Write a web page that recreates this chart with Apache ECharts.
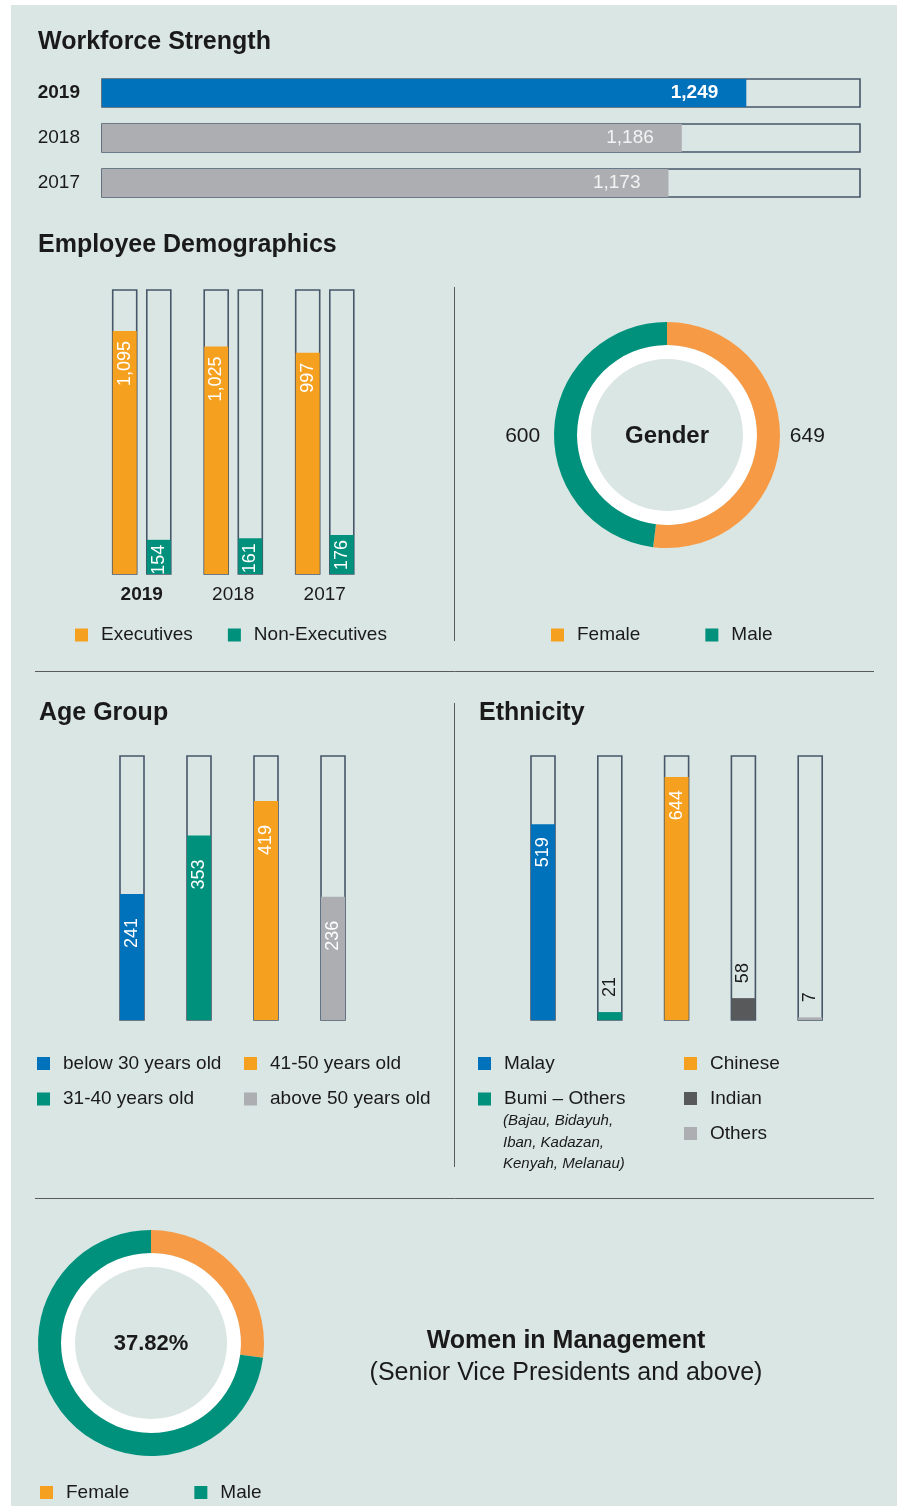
<!DOCTYPE html>
<html><head><meta charset="utf-8">
<script src="https://cdn.jsdelivr.net/npm/echarts@6/dist/echarts.min.js"></script>
<style>html,body{margin:0;padding:0;background:#fff}#c{width:901px;height:1506px}</style>
</head><body><div id="c"></div>
<script>
// ---------- data ----------
const workforceYears = ['2019', '2018', '2017'];
const workforceTotals = [1249, 1186, 1173];

const demoYears = ['2019', '2018', '2017'];
const executives = [1095, 1025, 997];
const nonExecutives = [154, 161, 176];

const genderNames = ['Female', 'Male'];
const genderValues = [649, 600];

const ageGroups = ['below 30 years old', '31-40 years old', '41-50 years old', 'above 50 years old'];
const ageValues = [241, 353, 419, 236];

const ethnicGroups = ['Malay', 'Bumi – Others', 'Chinese', 'Indian', 'Others'];
const ethnicValues = [519, 21, 644, 58, 7];
const bumiNote = ['(Bajau, Bidayuh,', 'Iban, Kadazan,', 'Kenyah, Melanau)'];

const wimNames = ['Female', 'Male'];
const wimSlices = [27.1, 72.9];      // slice shares as drawn
const wimLabel = '37.82%';

// ---------- style ----------
const FONT = '"Liberation Sans", Arial, Helvetica, sans-serif';
const BG = '#dae6e3';
const FRAME = '#46576a';
const BLUE = '#0071bb', ORANGE = '#f6a01f', TEAL = '#00917d', GRAY = '#adaeb1', DGRAY = '#58595b';
const DONUT_OR = '#f79a45';
const TXT = '#1a1a1a';
const ageColors = [BLUE, TEAL, ORANGE, GRAY];
const ethnicColors = [BLUE, TEAL, ORANGE, DGRAY, GRAY];

const bg = { color: BG, borderColor: FRAME, borderWidth: 1.6 };
const fmt = v => Number(v).toLocaleString('en-US');

function vLabel(distance, inside, color) {
  return {
    show: true, position: inside ? 'insideTop' : 'top', distance: distance, rotate: 90,
    align: inside ? 'right' : 'left', verticalAlign: 'middle',
    fontSize: 18, fontFamily: FONT, color: color,
    formatter: p => fmt(p.value)
  };
}

const series = [];

// Workforce strength
series.push({
  type: 'bar', xAxisIndex: 0, yAxisIndex: 0, barWidth: 28,
  showBackground: true, backgroundStyle: bg,
  data: workforceTotals.map((v, i) => ({
    value: v,
    itemStyle: { color: i === 0 ? BLUE : GRAY },
    label: { fontWeight: i === 0 ? 'bold' : 'normal', color: i === 0 ? '#ffffff' : '#f3f3f3' }
  })),
  label: { show: true, position: 'insideRight', distance: 28, fontSize: 19, fontFamily: FONT, formatter: p => fmt(p.value) }
});

// Demographics
series.push({
  name: 'Executives', type: 'bar', xAxisIndex: 1, yAxisIndex: 1, barWidth: 24, barGap: '42%',
  showBackground: true, backgroundStyle: bg, itemStyle: { color: ORANGE },
  data: executives, label: vLabel(10, true, '#fff')
});
series.push({
  name: 'Non-Executives', type: 'bar', xAxisIndex: 1, yAxisIndex: 1, barWidth: 24, barGap: '42%',
  showBackground: true, backgroundStyle: bg, itemStyle: { color: TEAL },
  data: nonExecutives, label: vLabel(5, true, '#fff')
});

// Age group (one series per group so the legend can name them)
ageGroups.forEach((g, k) => {
  series.push({
    name: g, type: 'bar', xAxisIndex: 2, yAxisIndex: 2, barWidth: 24, stack: 'age',
    showBackground: k === 0, backgroundStyle: bg, itemStyle: { color: ageColors[k] },
    data: ageValues.map((v, i) => i === k ? v : '-'),
    label: vLabel(24, true, '#fff')
  });
});

// Ethnicity
const ethMax = 700;
ethnicGroups.forEach((g, k) => {
  const inside = ethnicValues[k] / ethMax > 0.3;
  series.push({
    name: g, type: 'bar', xAxisIndex: 3, yAxisIndex: 3, barWidth: 24, stack: 'eth',
    showBackground: k === 0, backgroundStyle: bg, itemStyle: { color: ethnicColors[k] },
    data: ethnicValues.map((v, i) => i === k ? v : '-'),
    label: vLabel(inside ? 13 : 15, inside, inside ? '#fff' : TXT)
  });
});

// Gender donut
series.push({
  type: 'pie', center: [667, 435], radius: [90, 113], startAngle: 90, clockwise: true,
  silent: true,
  data: genderNames.map((n, i) => ({ name: n, value: genderValues[i], itemStyle: { color: i === 0 ? DONUT_OR : TEAL } })),
  label: { show: true, position: 'outside', formatter: '{c}', fontSize: 21, fontFamily: FONT, color: TXT, distanceToLabelLine: 5 },
  labelLine: { show: false, length: 0, length2: 5 },
  labelLayout: (p) => ({ y: 436, verticalAlign: 'middle', dx: p.labelRect.x < 667 ? -4 : 0 })
});

// Women in management donut
series.push({
  type: 'pie', center: [151, 1343], radius: [90, 113], startAngle: 90, clockwise: true,
  silent: true,
  data: wimNames.map((n, i) => ({ name: n, value: wimSlices[i], itemStyle: { color: i === 0 ? DONUT_OR : TEAL } })),
  label: { show: false }, labelLine: { show: false }
});

const legendBase = {
  icon: 'rect', itemWidth: 13, itemHeight: 13, padding: 0, selectedMode: false,
  textStyle: { fontSize: 19, fontFamily: FONT, color: TXT, padding: [0, 0, 0, 8], lineHeight: 20 }
};
function legend(extra) { return Object.assign({}, legendBase, extra); }

function txt(x, y, text, size, weight, align, style) {
  return { type: 'text', x: x, y: y, style: { text: text, fontSize: size, fontWeight: weight || 'normal', fontStyle: style || 'normal', fontFamily: FONT, fill: TXT, align: align || 'left', verticalAlign: 'middle' } };
}
function line(x1, y1, x2, y2) {
  return { type: 'line', shape: { x1: x1, y1: y1, x2: x2, y2: y2 }, style: { stroke: '#5a5a5a', lineWidth: 1 } };
}

const graphic = [
  { type: 'rect', shape: { x: 11, y: 5, width: 886, height: 1501 }, style: { fill: BG }, z: -10 },
  txt(38, 42, 'Workforce Strength', 25, 'bold'),
  txt(38, 245, 'Employee Demographics', 25, 'bold'),
  txt(39, 713, 'Age Group', 25, 'bold'),
  txt(479, 713, 'Ethnicity', 25, 'bold'),
  line(454.5, 287, 454.5, 641),
  line(35, 671.5, 874, 671.5),
  line(454.5, 703, 454.5, 1167),
  line(35, 1198.5, 874, 1198.5),
  { type: 'ring', shape: { cx: 667, cy: 435, r: 90, r0: 76 }, style: { fill: '#fff' } },
  txt(667, 436, 'Gender', 24, 'bold', 'center'),
  { type: 'ring', shape: { cx: 151, cy: 1343, r: 90, r0: 76 }, style: { fill: '#fff' } },
  txt(151, 1344, wimLabel, 22, 'bold', 'center'),
  txt(566, 1341, 'Women in Management', 25, 'bold', 'center'),
  txt(566, 1373, '(Senior Vice Presidents and above)', 25, 'normal', 'center')
];
bumiNote.forEach((s, i) => graphic.push(txt(503, 1121 + i * 21.5, s, 15, 'normal', 'left', 'italic')));

const hidden = { show: false };
const option = {
  animation: false,
  backgroundColor: '#ffffff',
  textStyle: { fontFamily: FONT },
  grid: [
    { left: 102, width: 758, top: 70.5, height: 135 },
    { left: 96, width: 274.5, top: 290, height: 284 },
    { left: 98.5, width: 268, top: 756, height: 264 },
    { left: 509.6, width: 334, top: 756, height: 264 }
  ],
  xAxis: [
    { gridIndex: 0, type: 'value', min: 620, max: 1360, show: false, splitLine: hidden },
    { gridIndex: 1, type: 'category', data: demoYears, axisLine: hidden, axisTick: hidden,
      axisLabel: { interval: 0, margin: 11, fontSize: 19, color: TXT, fontFamily: FONT,
        formatter: (v, i) => i === 0 ? '{b|' + v + '}' : '{n|' + v + '}',
        rich: { b: { fontWeight: 'bold', fontSize: 19, fontFamily: FONT, color: TXT }, n: { fontSize: 19, fontFamily: FONT, color: TXT } } } },
    { gridIndex: 2, type: 'category', data: ageGroups, show: false },
    { gridIndex: 3, type: 'category', data: ethnicGroups, show: false }
  ],
  yAxis: [
    { gridIndex: 0, type: 'category', data: workforceYears, inverse: true, axisLine: hidden, axisTick: hidden,
      axisLabel: { interval: 0, margin: 22, fontSize: 19, color: TXT, fontFamily: FONT,
        formatter: (v, i) => i === 0 ? '{b|' + v + '}' : '{n|' + v + '}',
        rich: { b: { fontWeight: 'bold', fontSize: 19, fontFamily: FONT, color: TXT }, n: { fontSize: 19, fontFamily: FONT, color: TXT } } } },
    { gridIndex: 1, type: 'value', min: 0, max: 1280, show: false, splitLine: hidden },
    { gridIndex: 2, type: 'value', min: 0, max: 505, show: false, splitLine: hidden },
    { gridIndex: 3, type: 'value', min: 0, max: ethMax, show: false, splitLine: hidden }
  ],
  legend: [
    legend({ data: ['Executives', 'Non-Executives'], left: 75, top: 625, itemGap: 35 }),
    legend({ data: [{ name: 'Female', itemStyle: { color: ORANGE } }, { name: 'Male', itemStyle: { color: TEAL } }], left: 551, top: 625, itemGap: 65 }),
    legend({ data: [ageGroups[0], ageGroups[1]], orient: 'vertical', left: 37, top: 1053.5, itemGap: 15.5 }),
    legend({ data: [ageGroups[2], ageGroups[3]], orient: 'vertical', left: 244, top: 1053.5, itemGap: 15.5 }),
    legend({ data: [ethnicGroups[0], ethnicGroups[1]], orient: 'vertical', left: 478, top: 1053.5, itemGap: 15.5 }),
    legend({ data: [ethnicGroups[2], ethnicGroups[3], ethnicGroups[4]], orient: 'vertical', left: 684, top: 1053.5, itemGap: 15 }),
    legend({ data: [{ name: 'Female', itemStyle: { color: ORANGE } }, { name: 'Male', itemStyle: { color: TEAL } }], left: 40, top: 1482.5, itemGap: 65 })
  ],
  graphic: graphic,
  series: series
};

const chart = echarts.init(document.getElementById('c'), null, { renderer: 'canvas' });
chart.setOption(option);
</script>
</body></html>
